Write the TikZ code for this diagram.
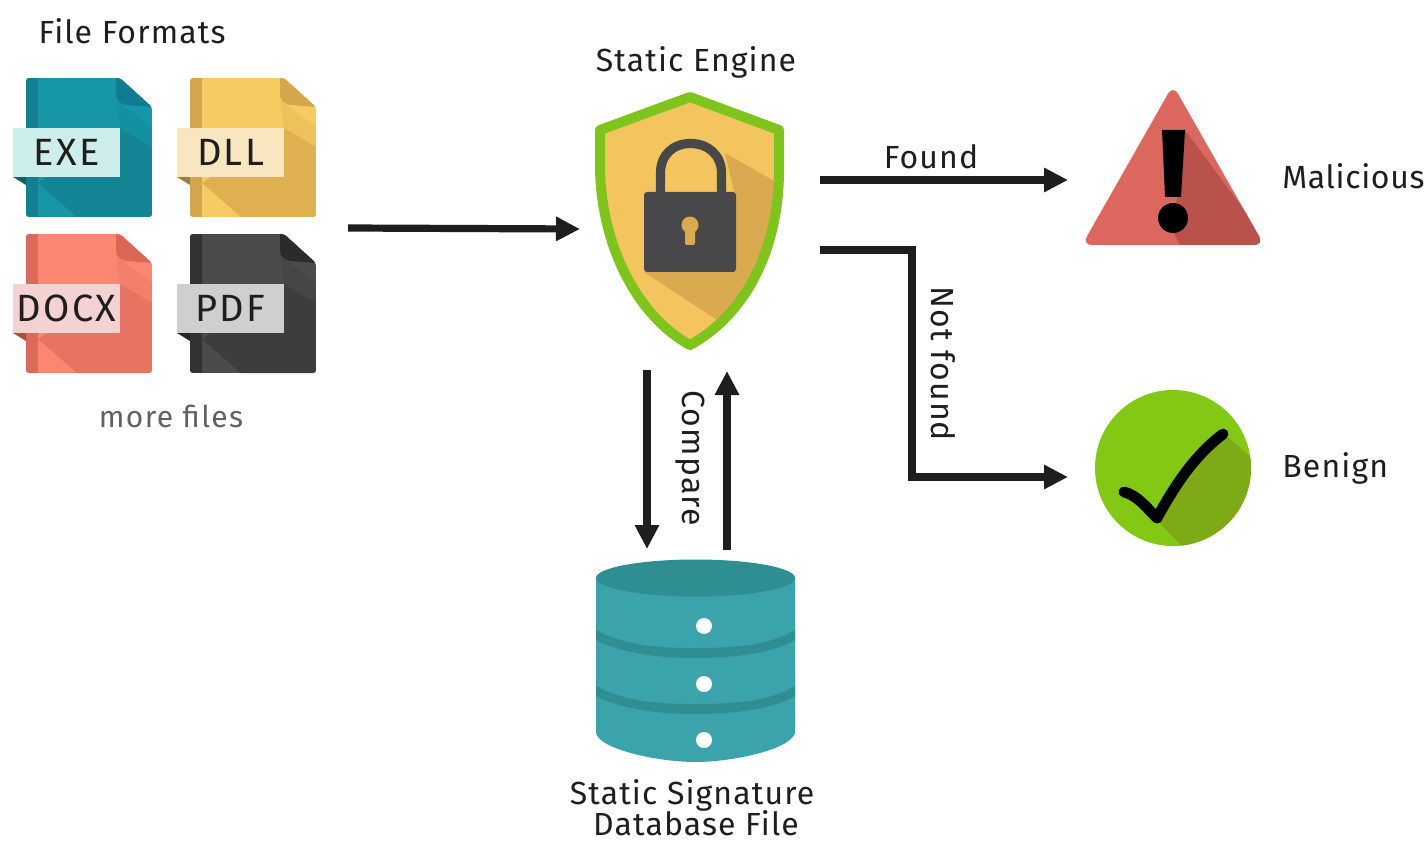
\documentclass[tikz,border=0pt]{standalone}
\usepackage{fontspec}
\setmainfont{Fira Sans}
\usetikzlibrary{arrows.meta,calc}
\definecolor{inkc}{HTML}{1E1E1E}
\definecolor{lockc}{HTML}{48484A}
\definecolor{shy}{HTML}{F4C55E}
\definecolor{shys}{HTML}{DAAA50}
\definecolor{shg}{HTML}{7EC41C}
\definecolor{dbm}{HTML}{3BA3AC}
\definecolor{dbd}{HTML}{2F8E92}
\definecolor{tri}{HTML}{DB675F}
\definecolor{tris}{HTML}{B8524B}
\definecolor{okg}{HTML}{82C814}
\definecolor{okd}{HTML}{7DAA16}
\definecolor{exeB}{HTML}{1696A6}\definecolor{exeS}{HTML}{138594}\definecolor{exeF}{HTML}{0F7D91}\definecolor{exeT}{HTML}{CDEEEA}\definecolor{exeL}{HTML}{128090}
\definecolor{dllB}{HTML}{F5CB62}\definecolor{dllS}{HTML}{DFB04F}\definecolor{dllF}{HTML}{D6A64C}\definecolor{dllT}{HTML}{F8E6C0}\definecolor{dllL}{HTML}{D3A54C}
\definecolor{docB}{HTML}{FB8672}\definecolor{docS}{HTML}{E77362}\definecolor{docF}{HTML}{DB6656}\definecolor{docT}{HTML}{F5D2D2}\definecolor{docL}{HTML}{DC6A5A}
\definecolor{pdfB}{HTML}{4A4B4B}\definecolor{pdfS}{HTML}{3C3E3E}\definecolor{pdfF}{HTML}{2A2B2B}\definecolor{pdfT}{HTML}{CFCFCF}\definecolor{pdfL}{HTML}{323434}
\tikzset{
  conn/.style={draw=inkc,line width=3.6pt,-{Triangle[length=12pt,width=11.5pt]}},
  caption/.style={font=\fontsize{16}{18}\selectfont\addfontfeature{LetterSpace=3.5},text=inkc,inner sep=0pt},
  hit/.style={draw=none,inner sep=0pt,outer sep=0pt,rectangle},
  ftag/.style={inner sep=0pt,outer sep=0pt,minimum width=53.5pt,minimum height=24.5pt,
    font=\fontsize{19}{20}\selectfont\addfontfeature{LetterSpace=6},text=inkc},
}
% #1 x-offset #2 y-offset #3 colour prefix #4 name #5 text
\newcommand{\filedoc}[5]{%
 \begin{scope}[shift={(#1,#2)}]
  \begin{scope}
   \clip[rounded corners=1.5pt] (26,78) -- (120,78) -- (152,107) -- (152,217) -- (26,217) -- cycle;
   \fill[#3B] (26,78) rectangle (152,217);
   \fill[#3S!35!#3B] (116,100) -- (152,127) -- (152,147) -- (120,128) -- cycle;
   \fill[#3S] (120,128) -- (152,147) -- (152,217) -- (77,217) -- (38,183) -- cycle;
   \fill[#3L] (26,78) rectangle (38,217);
   \fill[#3F] (120,78) -- (152,107) -- (126,105) .. controls (119,103) and (116,100) .. (116,94) -- (116,78) -- cycle;
  \end{scope}
  \fill[#3L!75!black] (13,177) -- (26,177) -- (26,185) -- cycle;
  \node[ftag,fill=#3T] (#4) at (66.5,152.5) {#5};
 \end{scope}}
\begin{document}
\begin{tikzpicture}[x=.5pt,y=-.5pt]
\useasboundingbox[fill=white] (0,0) rectangle (1427,844);

% ---- file formats
\node[caption] (title) at (132,31) {File Formats};
\filedoc{0}{0}{exe}{exetag}{EXE}
\filedoc{164}{0}{dll}{dlltag}{DLL}
\filedoc{0}{156}{doc}{doctag}{DOCX}
\filedoc{164}{156}{pdf}{pdftag}{PDF}
\node[caption,text=black!62,font=\fontsize{15}{18}\selectfont\addfontfeature{LetterSpace=4.7}] (more) at (171,416) {more files};

% ---- invisible footprints the connectors attach to
\node[hit,minimum width=167.5pt,minimum height=150pt] (files) at (180.5,228) {};
\node[hit,minimum width=120pt,minimum height=145pt] (shield) at (700,228) {};
\node[hit,minimum width=96pt,minimum height=80pt] (malbox) at (1164,180) {};
\node[hit,minimum width=92pt,minimum height=87pt] (benbox) at (1160,477) {};
\node[hit,minimum width=100pt,minimum height=5pt] (dbbox) at (687,550) {};
\coordinate (shieldIn) at (shield.west |- 0,229);
\coordinate (shieldFound) at (shield.east |- malbox.west);
\coordinate (shieldNot) at (820,250);
\coordinate (shieldDown) at (647,370);
\coordinate (dbDown) at (647,549);
\coordinate (shieldUp) at (727,371);
\coordinate (dbUp) at (727,550);
\coordinate (elbowA) at (912,250);
\coordinate (elbowB) at (912,477);

% ---- shield
\path[fill=shy] (690,97) -- (779,130) -- (779,170) .. controls (779,250) and (745,315) .. (690,345)
   .. controls (640,318) and (602,250) .. (600,170) -- (600,130) -- cycle;
\begin{scope}
 \clip (690,97) -- (779,130) -- (779,170) .. controls (779,250) and (745,315) .. (690,345)
   .. controls (640,318) and (602,250) .. (600,170) -- (600,130) -- cycle;
 \fill[shys] (725,153) -- (790,190) -- (790,345) -- (720,322) -- (644,272) -- (736,200) -- cycle;
\end{scope}
\draw[shg,line width=5pt,line join=round] (690,97) -- (779,130) -- (779,170) .. controls (779,250) and (745,315) .. (690,345)
   .. controls (640,318) and (602,250) .. (600,170) -- (600,130) -- cycle;
\draw[lockc,line width=4.6pt] (660.5,194) -- (660.5,173) .. controls (660.5,155) and (673,143.5) .. (690.5,143.5)
   .. controls (708,143.5) and (721.5,155) .. (721.5,173) -- (721.5,194);
\fill[lockc,rounded corners=1.5pt] (644,192) rectangle (736,272);
\fill[shys] (690,225) circle[radius=8.5];
\fill[shys,rounded corners=1pt] (685,228) rectangle (695,245);

% ---- database
\fill[dbm] (596,578) -- (596,733) .. controls (600,750) and (660,762) .. (695.5,762)
  .. controls (731,762) and (790,750) .. (795,733) -- (795,578) -- cycle;
\fill[dbd] (596,630) .. controls (625,646) and (660,648) .. (695,648) .. controls (730,648) and (770,646) .. (795,630)
  -- (795,640) .. controls (770,654) and (730,658) .. (695,658) .. controls (660,658) and (625,654) .. (596,640) -- cycle;
\fill[dbd] (596,686) .. controls (625,702) and (660,704) .. (695,704) .. controls (730,704) and (770,702) .. (795,686)
  -- (795,696) .. controls (770,710) and (730,714) .. (695,714) .. controls (660,714) and (625,710) .. (596,696) -- cycle;
\fill[dbd] (695.5,578) ellipse[x radius=99.5,y radius=18.5];
\fill[white] (704,626) circle[radius=8];
\fill[white] (704,684) circle[radius=8];
\fill[white] (704,740) circle[radius=8];
\node[caption,anchor=base] (dbcapa) at (692,804) {Static Signature};
\node[caption,anchor=base] (dbcapb) at (696,835) {Database File};
\node[caption] (engcap) at (696,62) {Static Engine};

% ---- malicious
\begin{scope}
 \clip[rounded corners=5pt] (1173,85) -- (1264,245) -- (1082,245) -- cycle;
 \fill[tri] (1080,85) rectangle (1266,245);
 \fill[tris] (1185,130) -- (1270,245) -- (1180,245) -- (1173,232) -- cycle;
\end{scope}
\fill[black] (1162,130) -- (1185,130) -- (1181,197) -- (1165,197) -- cycle;
\fill[black] (1173,218) circle[radius=15];
\node[caption,anchor=west,font=\fontsize{16}{18}\selectfont\addfontfeature{LetterSpace=2}] (mal) at (1282,176) {Malicious};

% ---- benign
\fill[okg] (1173,468) circle[radius=78];
\begin{scope}
 \clip (1173,468) circle[radius=78];
 \fill[okd] (1223,433) -- (1260,465) -- (1260,560) -- (1195,560) -- (1157,520) -- cycle;
\end{scope}
\draw[black,line width=5.4pt,line cap=round,line join=round] (1124,492) .. controls (1137,495) and (1147,508) .. (1157,518)
  .. controls (1175,485) and (1195,455) .. (1223,434);
\node[caption,anchor=west] (ben) at (1282,468) {Benign};

% ---- connectors
\draw[conn] (files.east) -- (shieldIn);
\draw[conn] (shieldFound) -- (malbox.west);
\node[caption] (foundlbl) at (931,157) {Found};
\draw[conn] (shieldNot) -- (elbowA) -- (elbowB) -- (benbox.west);
\node[caption,rotate=-90] (notlbl) at (943,364) {Not found};
\draw[conn] (shieldDown) -- (dbDown);
\draw[conn] (dbUp) -- (shieldUp);
\node[caption,rotate=-90] (cmplbl) at (690,458) {Compare};
\end{tikzpicture}
\end{document}
